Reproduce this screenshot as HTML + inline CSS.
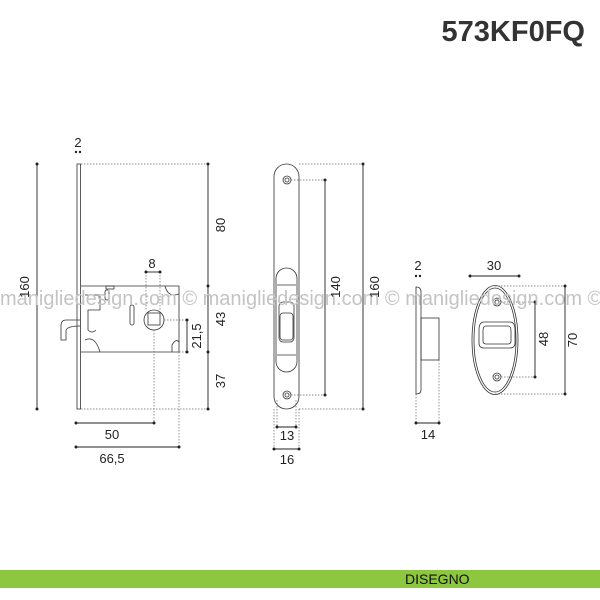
<!DOCTYPE html>
<html><head><meta charset="utf-8"><style>
html,body{margin:0;padding:0;background:#fff;width:600px;height:600px;overflow:hidden}
svg{display:block}
text{font-family:"Liberation Sans",sans-serif}
</style></head><body>
<svg width="600" height="600" viewBox="0 0 600 600" xmlns="http://www.w3.org/2000/svg">
<text x="585" y="41" text-anchor="end" font-size="29" font-weight="bold" fill="#333">573KF0FQ</text>
<rect x="0" y="570" width="600" height="18" fill="#8dc63f"/>
<text x="405" y="584" font-size="14" fill="#111">DISEGNO</text>

<g stroke="#333" stroke-width="0.8" fill="none">
<rect x="77" y="164" width="3.5" height="245" fill="#fff"/>
<path d="M81 286 H179 V352 H81"/>
<path d="M80 320 H66 Q61 320 61 326 V340 H66 V330 Q68 326 80 326"/>
<path d="M85 295 H100 V310 H88 V330 Q92 334 96 330 M85 340 Q95 335 100 352"/>
<rect x="105" y="290" width="4" height="10" rx="2"/>
<rect x="130" y="305" width="4" height="20" rx="2"/>
<rect x="106" y="286" width="8" height="3"/>
<path d="M165 286 Q168 298 179 294 M172 352 V345 Q176 338 179 342"/>
<circle cx="154" cy="320" r="10"/>
<rect x="148" y="313" width="12" height="12"/>
<rect x="274" y="164" width="25" height="245" rx="12.5" fill="#fff"/>
<circle cx="287" cy="180" r="4"/><circle cx="287" cy="180" r="2"/>
<circle cx="287" cy="395" r="4"/><circle cx="287" cy="395" r="2"/>
<rect x="276" y="268" width="21" height="104" rx="10.5"/>
<line x1="277" y1="285" x2="296" y2="285"/><line x1="277" y1="355" x2="296" y2="355"/>
<rect x="279" y="302" width="15" height="40" rx="4"/>
<rect x="280" y="313" width="13" height="27" rx="3"/>
<path d="M416 287 Q421 287 421 292 V390 Q421 394 416 394 Z" fill="#fff"/>
<rect x="421" y="318" width="18" height="42"/>
<ellipse cx="495" cy="340" rx="23" ry="54.5"/>
<ellipse cx="495" cy="340" rx="21" ry="52"/>
<circle cx="497" cy="302" r="4"/><circle cx="497" cy="302" r="2"/>
<circle cx="497" cy="377" r="4"/><circle cx="497" cy="377" r="2"/>
<path d="M484 322 H510 Q515 322 515 330 V343 Q515 348 510 348 H484 Q479 348 479 343 V330 Q479 322 484 322 Z"/>
<path d="M486 326 H508 Q511 326 511 331 V341 Q511 344 508 344 H486 Q483 344 483 341 V331 Q483 326 486 326 Z"/>
</g>

<g stroke="#666" stroke-width="0.7" stroke-dasharray="1.5,1.5" fill="none">
<path d="M81 164 H208 M81 409 H208 M146 272 V310 M160 272 V310 M164 320 H187 M179 352 H187 M154 330 V423 M179 352 V447"/>
<path d="M299 164 H363 M299 409 H363 M291 180 H325 M291 395 H325 M277 400 V427 M296 400 V427 M274 409 V449 M299 409 V449"/>
<path d="M416 394 V423 M439 360 V423 M495 286 H565 M495 394 H565 M501 302 H535 M501 377 H535"/>
</g>

<g stroke="#222" stroke-width="0.9" fill="#222">
<line x1="37" y1="164" x2="37" y2="409"/>
<line x1="208" y1="164" x2="208" y2="409"/>
<line x1="146" y1="272" x2="160" y2="272"/>
<line x1="187" y1="320" x2="187" y2="352"/>
<line x1="76" y1="423" x2="154" y2="423"/>
<line x1="76" y1="447" x2="179" y2="447"/>
<line x1="325" y1="180" x2="325" y2="395"/>
<line x1="363" y1="164" x2="363" y2="409"/>
<line x1="277" y1="427" x2="296" y2="427"/>
<line x1="274" y1="449" x2="299" y2="449"/>
<line x1="416" y1="423" x2="439" y2="423"/>
<line x1="470" y1="276" x2="519" y2="276"/>
<line x1="535" y1="302" x2="535" y2="377"/>
<line x1="565" y1="286" x2="565" y2="394"/>
<g stroke="none">
<circle cx="37" cy="164" r="1.5"/><circle cx="37" cy="409" r="1.5"/>
<circle cx="208" cy="164" r="1.5"/><circle cx="208" cy="286" r="1.5"/><circle cx="208" cy="352" r="1.5"/><circle cx="208" cy="409" r="1.5"/>
<circle cx="146" cy="272" r="1.5"/><circle cx="160" cy="272" r="1.5"/>
<circle cx="187" cy="320" r="1.5"/><circle cx="187" cy="352" r="1.5"/>
<circle cx="76" cy="423" r="1.5"/><circle cx="154" cy="423" r="1.5"/>
<circle cx="76" cy="447" r="1.5"/><circle cx="179" cy="447" r="1.5"/>
<circle cx="76" cy="152" r="1.2"/><circle cx="80" cy="152" r="1.2"/>
<circle cx="325" cy="180" r="1.5"/><circle cx="325" cy="395" r="1.5"/>
<circle cx="363" cy="164" r="1.5"/><circle cx="363" cy="409" r="1.5"/>
<circle cx="277" cy="427" r="1.5"/><circle cx="296" cy="427" r="1.5"/>
<circle cx="274" cy="449" r="1.5"/><circle cx="299" cy="449" r="1.5"/>
<circle cx="416" cy="423" r="1.5"/><circle cx="439" cy="423" r="1.5"/>
<circle cx="416" cy="276" r="1.2"/><circle cx="420" cy="276" r="1.2"/>
<circle cx="470" cy="276" r="1.5"/><circle cx="519" cy="276" r="1.5"/>
<circle cx="535" cy="302" r="1.5"/><circle cx="535" cy="377" r="1.5"/>
<circle cx="565" cy="286" r="1.5"/><circle cx="565" cy="394" r="1.5"/>
</g></g>

<text x="0" y="305" font-size="20" fill="#c4c4c4" xml:space="preserve">manigliedesign.com © manigliedesign.com © manigliedesign.com ©</text>

<g font-size="13" fill="#222" text-anchor="middle">
<text x="78" y="147">2</text>
<text x="152" y="268">8</text>
<text x="112" y="439">50</text>
<text x="112" y="463">66,5</text>
<text x="287" y="440">13</text>
<text x="287" y="464">16</text>
<text x="418" y="270">2</text>
<text x="428" y="439">14</text>
<text x="494" y="270">30</text>
<text transform="translate(29,287) rotate(-90)">160</text>
<text transform="translate(225,225) rotate(-90)">80</text>
<text transform="translate(225,319) rotate(-90)">43</text>
<text transform="translate(225,381) rotate(-90)">37</text>
<text transform="translate(201,336) rotate(-90)">21,5</text>
<text transform="translate(340,287) rotate(-90)">140</text>
<text transform="translate(379,287) rotate(-90)">160</text>
<text transform="translate(548,339) rotate(-90)">48</text>
<text transform="translate(577,340) rotate(-90)">70</text>
</g>
</svg>
</body></html>
